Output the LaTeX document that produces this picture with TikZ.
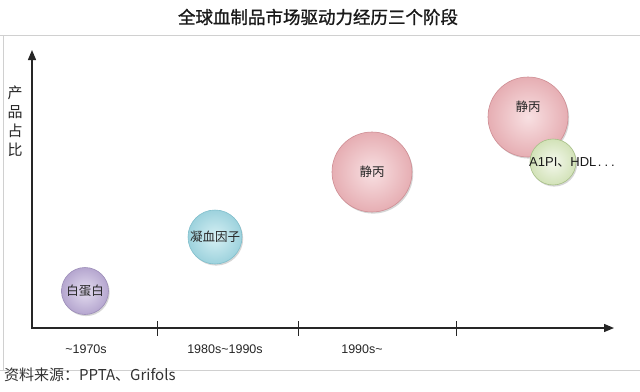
\documentclass[tikz,border=0pt]{standalone}
\usepackage{fontspec}
\setmainfont{Liberation Sans}
\newfontfamily\cjk{Noto Sans CJK SC}
\newfontfamily\cjktitle[FakeBold=1.2]{Noto Sans CJK SC}
\usetikzlibrary{shadows,arrows.meta}
\definecolor{purpin}{HTML}{E4DDF0}
\definecolor{purpout}{HTML}{B5A6CF}
\definecolor{purpedge}{HTML}{9C8DB8}
\definecolor{bluein}{HTML}{D6F0F4}
\definecolor{blueout}{HTML}{9DD2DD}
\definecolor{blueedge}{HTML}{80BFCC}
\definecolor{pinkin}{HTML}{F8E0E2}
\definecolor{pinkout}{HTML}{E6AEB3}
\definecolor{pinkedge}{HTML}{CF8E94}
\definecolor{greenin}{HTML}{F4F8EC}
\definecolor{greenout}{HTML}{D2E2B8}
\definecolor{greenedge}{HTML}{A6BF86}
\definecolor{frame}{HTML}{D0D0D0}
\tikzset{
  bubble/.style={circle, inner sep=0pt, line width=0.6pt,
    drop shadow={shadow xshift=1.2pt, shadow yshift=-1.6pt, opacity=0.35, fill=black!45}},
  bubtext/.style={font=\cjk\fontsize{12.5}{14}\selectfont, text=black!85},
  axis/.style={line width=1.3pt, black!85},
  tickmark/.style={line width=1pt, black!85},
  xlab/.style={font=\fontsize{12.5}{14}\selectfont, text=black!85}
}
\begin{document}
\begin{tikzpicture}[x=1pt,y=-1pt]
\useasboundingbox (0,0) rectangle (640,391);
\fill[white] (0,0) rectangle (640,391);
% frame lines
\draw[frame, line width=0.6pt] (0,35) -- (640,35);
\draw[frame, line width=0.6pt] (3,35) -- (3,370);
\draw[frame, line width=0.6pt] (0,370) -- (640,370);
% title
\node[font=\cjktitle\fontsize{17.5}{20}\selectfont, text=black!90] (title) at (318,17) {全球血制品市场驱动力经历三个阶段};
% axes
\coordinate (O) at (32,328);
\coordinate (ytop) at (32,50);
\coordinate (xend) at (614,328);
\draw[axis, -{Triangle[length=10pt,width=8pt]}] (32,329) -- (ytop);
\draw[axis, -{Triangle[length=10pt,width=8pt]}] (31.4,328) -- (xend);
\foreach \x/\n in {157/t1, 298/t2, 456/t3} {
  \coordinate (\n a) at (\x,321);
  \coordinate (\n b) at (\x,336);
  \draw[tickmark] (\n a) -- (\n b);
}
% y label
\node[font=\cjk\fontsize{15}{19}\selectfont, align=center, inner sep=0pt, text=black!85] (ylab) at (15,121) {产\\品\\占\\比};
% x labels
\node[xlab] (l1) at (86,349) {\textasciitilde1970s};
\node[xlab] (l2) at (225,349) {1980s\textasciitilde1990s};
\node[xlab] (l3) at (362,349) {1990s\textasciitilde};
% bubbles
\node[bubble, minimum size=47pt, draw=purpedge, inner color=purpin, outer color=purpout] (alb) at (85,291) {};
\node[bubtext] (albt) at (85,291) {白蛋白};
\node[bubble, minimum size=54pt, draw=blueedge, inner color=bluein, outer color=blueout] (fac) at (215,237) {};
\node[bubtext] (fact) at (215,237) {凝血因子};
\node[bubble, minimum size=80pt, draw=pinkedge, inner color=pinkin, outer color=pinkout] (ivig1) at (372,172) {};
\node[bubtext] (ivig1t) at (372,172) {静丙};
\node[bubble, minimum size=80pt, draw=pinkedge, inner color=pinkin, outer color=pinkout] (ivig2) at (528,117) {};
\node[bubtext] (ivig2t) at (528,107) {静丙};
\node[bubble, minimum size=46pt, draw=greenedge, inner color=greenin, outer color=greenout] (oth) at (553,162) {};
\node[font=\fontsize{13}{15}\selectfont, text=black!90, inner sep=0pt] (otht) at (572,162) {A1PI{\cjk 、}HDL\kern1.5pt.\kern3pt.\kern3pt.};
% source
\node[font=\cjk\fontsize{15}{17}\selectfont, anchor=west, inner sep=0pt, text=black!80] (src) at (4,375) {资料来源：PPTA、Grifols};
\end{tikzpicture}
\end{document}
